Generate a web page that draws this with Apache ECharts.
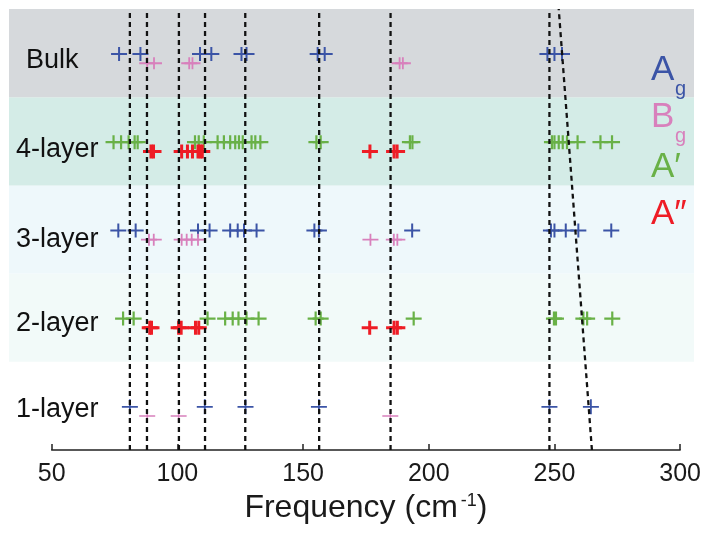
<!DOCTYPE html>
<html>
<head>
<meta charset="utf-8">
<script src="https://cdn.jsdelivr.net/npm/echarts@6/dist/echarts.min.js"></script>
<style>
html,body{margin:0;padding:0;background:#fff;}
#chart{width:704px;height:533px;}
</style>
</head>
<body>
<div id="chart"></div>
<script>
// ---------------- data ----------------
const categories = ['1-layer', '2-layer', '3-layer', '4-layer', 'Bulk'];
const xMin = 50, xMax = 300, xInterval = 50;

const bulkAg = [76.8, 85.3, 109, 113.5, 125.5, 127.5, 155.8, 158.6, 247.2, 250, 253];
const bulkBg = [88, 90.7, 104.7, 106, 188.4, 189.7];

const layer4A1 = [74.6, 77.6, 80.6, 83, 84.2, 107, 108.5, 110.5, 116, 118.5, 121, 123, 124.5, 126, 129.5, 131, 133,
                  155.3, 157, 192.5, 193.5, 249, 250, 251.7, 253.3, 255, 259.2, 268.3, 272.9];
const layer4A2 = [89.5, 90.5, 101.7, 104, 106, 108.2, 109.1, 109.9, 176.6, 186.2, 187.4];

const layer3Ag = [76.5, 83.4, 108.2, 112.8, 121, 124, 126.5, 131.5, 154.5, 156.3, 193.4, 248.6, 250, 254.5, 259.5, 272.6];
const layer3Bg = [88.7, 90.6, 101.7, 103.7, 105.7, 108.2, 176.8, 186.1, 187.5];

const layer2A1 = [78.4, 82.6, 112, 119, 122, 124.3, 127.5, 132.3, 155, 157, 194, 249.8, 250.6, 261.5, 263, 273];
const layer2A2 = [89, 89.7, 100.5, 101.5, 107.2, 108.5, 176.5, 186.2, 187.5];

const layer1Ag = [81.1, 110.9, 127.1, 156.3, 248, 264.5];
const layer1Bg = [88, 100.5, 184.7];

const guideLines = [81.1, 87.9, 100.6, 111, 127, 156.4, 184.8, 248];
const slantTop = 251.7, slantBottom = 264.9;

const legendMain = ['A', 'B', 'A\u2032', 'A\u2033'];
const legendSub = ['g', 'g', '', ''];

// ---------------- styles ----------------
const C_AG = '#3b54a6', C_BG = '#d880bc', C_A1 = '#69b147', C_A2 = '#ee1c25';
const bandColors = ['#ffffff', '#f2faf9', '#eef8fb', '#d4ece7', '#d6d9dc'];
const FONT = 'Liberation Sans, Arial, sans-serif';
const UPPER = 0.49, LOWER = 0.385;
const labelPad = { '1-layer': 8, '2-layer': 12, '3-layer': 20, '4-layer': 16, 'Bulk': 14 };
const labelLeft = { '1-layer': 0, '2-layer': 0, '3-layer': 0, '4-layer': 0, 'Bulk': 10 };

function plus(w, h, t) {
  const a = (h - t) / 2, b = (h + t) / 2, c = (w - t) / 2, d = (w + t) / 2;
  return 'path://M0,' + a + 'H' + w + 'V' + b + 'H0Z M' + c + ',0H' + d + 'V' + h + 'H' + c + 'Z';
}

function pts(arr, row, off) { return arr.map(v => [v, row + off]); }

function scatter(name, data, color, w, h, t) {
  return {
    name: name, type: 'scatter', xAxisIndex: 1, yAxisIndex: 1,
    symbol: plus(w, h, t), symbolSize: [w, h],
    itemStyle: { color: color, opacity: 1 },
    data: data, z: 3, silent: true
  };
}

const series = [];
series.push({
  type: 'custom', xAxisIndex: 0, yAxisIndex: 0, silent: true, z: 0,
  data: categories.map((c, i) => [i]),
  renderItem: function (params, api) {
    const i = api.value(0);
    const cs = params.coordSys;
    const y1 = api.coord([0, i + 1])[1], y0 = api.coord([0, i])[1];
    return { type: 'rect', shape: { x: cs.x, y: y1, width: cs.width, height: y0 - y1 },
             style: { fill: bandColors[i] } };
  }
});

series.push(scatter('Ag', pts(bulkAg, 4, UPPER).concat(pts(layer3Ag, 2, UPPER)), C_AG, 16, 14, 2));
series.push(scatter('Bg', pts(bulkBg, 4, LOWER).concat(pts(layer3Bg, 2, LOWER)), C_BG, 16, 12, 1.8));
series.push(scatter("A'", pts(layer4A1, 3, UPPER).concat(pts(layer2A1, 1, UPPER)), C_A1, 16, 14, 2.2));
series.push(scatter("A''", pts(layer4A2, 3, LOWER).concat(pts(layer2A2, 1, LOWER)), C_A2, 16, 14, 3));
series.push(scatter('Ag1', pts(layer1Ag, 0, UPPER), C_AG, 16, 15, 1.8));
series.push(scatter('Bg1', pts(layer1Bg, 0, LOWER), C_BG, 16, 11, 1.5));

const dashStyle = { color: '#111', width: 2.3, type: [5, 4] };
guideLines.forEach(v => {
  series.push({ type: 'line', xAxisIndex: 1, yAxisIndex: 1, symbol: 'none', silent: true, z: 5,
    data: [[v, 0], [v, 5]], lineStyle: dashStyle });
});
series.push({ type: 'line', xAxisIndex: 1, yAxisIndex: 1, symbol: 'none', silent: true, z: 5,
  data: [[slantBottom, 0], [slantTop, 5]], lineStyle: dashStyle });

// legend text
const graphics = [];
const legendColors = [C_AG, C_BG, C_A1, C_A2];
const legendY = [70, 117, 167, 214];
legendMain.forEach((t, i) => {
  graphics.push({ type: 'text', x: 651, y: legendY[i], z: 100, zlevel: 1,
    style: { text: t, fill: legendColors[i], fontSize: 35, fontFamily: FONT,
             textVerticalAlign: 'middle', verticalAlign: 'middle' } });
  if (legendSub[i]) {
    graphics.push({ type: 'text', x: 675, y: legendY[i] + 19, z: 100, zlevel: 1,
      style: { text: legendSub[i], fill: legendColors[i], fontSize: 20, fontFamily: FONT,
               textVerticalAlign: 'middle', verticalAlign: 'middle' } });
  }
});

const richLabels = {};
categories.forEach((c, i) => {
  richLabels['r' + i] = { fontSize: 27, color: '#111', fontFamily: FONT,
    padding: [labelPad[c], 0, 0, labelLeft[c]] };
});

const option = {
  animation: false,
  backgroundColor: '#ffffff',
  textStyle: { fontFamily: FONT },
  grid: [
    { left: 9, right: 10, top: 9, bottom: 83 },
    { left: 51.7, right: 22.3, top: 9, bottom: 83 }
  ],
  xAxis: [
    { type: 'value', gridIndex: 0, min: 0, max: 1, show: false },
    { type: 'value', gridIndex: 1, min: xMin, max: xMax, interval: xInterval,
      axisLine: { show: true, lineStyle: { color: '#222', width: 1.5 } },
      axisTick: { show: true, inside: true, length: 6, lineStyle: { color: '#222', width: 1.5 } },
      splitLine: { show: false },
      axisLabel: { color: '#1a1a1a', fontSize: 25, margin: 12, fontFamily: FONT },
      name: 'Frequency (cm{sup|-1})', nameLocation: 'middle', nameGap: 39,
      nameTextStyle: { color: '#1a1a1a', fontSize: 32, fontFamily: FONT,
        rich: { sup: { fontSize: 18, color: '#1a1a1a', fontFamily: FONT, padding: [0, 0, 15, 3] } } }
    }
  ],
  yAxis: [
    { type: 'value', gridIndex: 0, min: 0, max: 5, show: false },
    { type: 'value', gridIndex: 1, min: 0, max: 5, show: false },
    { type: 'category', gridIndex: 1, data: categories, position: 'left',
      axisLine: { show: false }, axisTick: { show: false }, splitLine: { show: false },
      axisLabel: { color: '#111', fontSize: 27, fontFamily: FONT, align: 'left', margin: 35.7,
        formatter: (v, idx) => '{r' + categories.indexOf(v) + '|' + v + '}',
        rich: richLabels }
    }
  ],
  graphic: { elements: graphics },
  series: series
};

const chart = echarts.init(document.getElementById('chart'), null, { renderer: 'canvas', width: 704, height: 533 });
chart.setOption(option);
</script>
</body>
</html>
